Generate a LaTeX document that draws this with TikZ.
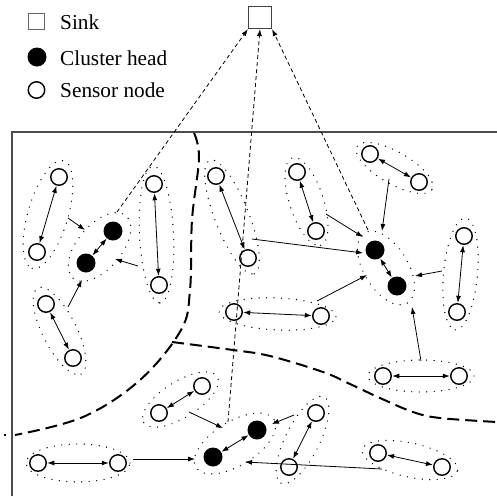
\documentclass[tikz,border=0pt]{standalone}
\usepackage{fontspec}
\setmainfont{Liberation Serif}
\usetikzlibrary{arrows.meta,calc}

% dotted ring round two member nodes: #1,#2 nodes, #3 extra length, #4 half width
\newcommand\clusterring[4]{%
  \path let \p1=(#1), \p2=(#2) in \pgfextra{%
    \pgfmathsetmacro\ringang{atan2(\y2-\y1,\x2-\x1)}%
    \pgfmathsetmacro\ringlen{veclen(\x2-\x1,\y2-\y1)/2+#3}%
    \xdef\ringangle{\ringang}\xdef\ringhalf{\ringlen}};
  \draw[ring, rotate around={\ringangle:($(#1)!0.5!(#2)$)}]
    ($(#1)!0.5!(#2)$) ellipse [x radius=\ringhalf pt, y radius=#4 pt];
}

\tikzset{
  >={Latex[length=7pt,width=5pt]},
  sn/.style={circle, draw, line width=1.4pt, fill=white, minimum size=16.5pt, inner sep=0pt},
  ch/.style={circle, fill=black, minimum size=19pt, inner sep=0pt},
  link/.style={<->, line width=0.8pt, shorten <=0.3pt, shorten >=0.3pt},
  report/.style={->, line width=0.8pt},
  uplink/.style={->, line width=0.8pt, dash pattern=on 4pt off 3pt},
  ring/.style={line width=1.4pt, dash pattern=on 0pt off 7.5pt, line cap=round},
  boundary/.style={line width=2pt, dash pattern=on 12pt off 6pt},
  frameline/.style={line width=1.2pt, draw=black!70},
  legtext/.style={anchor=base west, font=\fontsize{21.3}{26}\selectfont, inner sep=0pt},
}

\begin{document}
\begin{tikzpicture}[x=1pt, y=-1pt]
\useasboundingbox (0,0) rectangle (497,496);

% legend
\node[draw=black!60, line width=1pt, minimum size=16pt, inner sep=0pt] (legsink) at (36.5,21.5) {};
\node[legtext] (legsinktext) at (60,29) {Sink};
\node[ch] (legch) at (37,57) {};
\node[legtext] (legchtext) at (60,65) {Cluster head};
\node[sn] (legsn) at (36.5,90) {};
\node[legtext] (legsntext) at (60,97) {Sensor node};

% sink
\node[draw=black!75, line width=1.2pt, minimum width=23pt, minimum height=22pt, inner sep=0pt] (sink) at (260,17.5) {};

% field frame
\draw[frameline] (12,496) -- (12,132) -- (497,132);

% region boundaries
\draw[boundary] plot[smooth, tension=0.6] coordinates
  {(194,133) (199,158) (192,220) (190,290) (181,330) (140,380) (83,417) (15,435)};
\draw[line width=1.6pt] (4.2,435) -- (6,435);
\draw[boundary] plot[smooth, tension=0.6] coordinates
  {(172,342) (233,350) (270,356) (323,372) (350,384) (380,398) (413,412) (440,418) (497,422)};

% sensor nodes
\node[sn] (A) at (59,177) {};
\node[sn] (B) at (37,252) {};
\node[sn] (C) at (154,184) {};
\node[sn] (D) at (159,285) {};
\node[sn] (E) at (46,304) {};
\node[sn] (E2) at (73,358) {};
\node[sn] (F) at (216,176) {};
\node[sn] (G) at (248,258) {};
\node[sn] (H) at (297,172) {};
\node[sn] (I) at (316,231) {};
\node[sn] (J) at (234,312) {};
\node[sn] (K) at (321,316) {};
\node[sn] (L) at (370,154) {};
\node[sn] (M) at (419,182) {};
\node[sn] (N) at (464,236) {};
\node[sn] (O) at (457,312) {};
\node[sn] (U) at (383,376) {};
\node[sn] (V) at (459,376) {};
\node[sn] (P) at (202,386) {};
\node[sn] (Q) at (159,413) {};
\node[sn] (R) at (38,463) {};
\node[sn] (S) at (118,463) {};
\node[sn] (W) at (316,413) {};
\node[sn] (X) at (289,467) {};
\node[sn] (Y) at (378,453) {};
\node[sn] (Z) at (442,467) {};

% cluster heads
\node[ch] (h1) at (113,231) {};
\node[ch] (h2) at (86,263) {};
\node[ch] (h3) at (375,250) {};
\node[ch] (h4) at (397,286) {};
\node[ch] (h5) at (213,457) {};
\node[ch] (h6) at (257,430) {};

% cluster rings
\clusterring{A}{B}{17}{20}
\clusterring{h1}{h2}{20}{22}
\clusterring{C}{D}{18}{17}
\clusterring{E}{E2}{18}{17}
\clusterring{F}{G}{17}{17}
\clusterring{H}{I}{15}{17}
\clusterring{J}{K}{15}{16}
\clusterring{L}{M}{15}{16}
\clusterring{h3}{h4}{20}{22}
\clusterring{N}{O}{18}{17}
\clusterring{U}{V}{15}{16}
\clusterring{P}{Q}{18}{18}
\clusterring{R}{S}{12}{19}
\clusterring{h5}{h6}{20}{22}
\clusterring{W}{X}{18}{17}
\clusterring{Y}{Z}{16}{17}

% links inside clusters
\draw[link] (A) -- (B);
\draw[link] (h1) -- (h2);
\draw[link] (C) -- (D);
\draw[link] (E) -- (E2);
\draw[link] (F) -- (G);
\draw[link] (H) -- (I);
\draw[link] (J) -- (K);
\draw[link] (L) -- (M);
\draw[link] (h3) -- (h4);
\draw[link] (N) -- (O);
\draw[link] (U) -- (V);
\draw[link] (P) -- (Q);
\draw[link] (R) -- (S);
\draw[link] (h5) -- (h6);
\draw[link] (W) -- (X);
\draw[link] (Y) -- (Z);

% reports from member clusters to their heads
\coordinate (r1a) at (68,218);  \coordinate (r1b) at (85,230);
\coordinate (r2a) at (138,266); \coordinate (r2b) at (115,259);
\coordinate (r3a) at (68,307);  \coordinate (r3b) at (82,280);
\coordinate (r4a) at (252,239); \coordinate (r4b) at (363,253);
\coordinate (r5a) at (326,214); \coordinate (r5b) at (363,237);
\coordinate (r6a) at (389,179); \coordinate (r6b) at (382,231);
\coordinate (r7a) at (317,301); \coordinate (r7b) at (367,275);
\coordinate (r8a) at (442,271); \coordinate (r8b) at (415,276);
\coordinate (r9a) at (421,361); \coordinate (r9b) at (412,307);
\coordinate (r10a) at (189,412); \coordinate (r10b) at (223,428);
\coordinate (r11a) at (133,459); \coordinate (r11b) at (195,459);
\coordinate (r12a) at (294,415); \coordinate (r12b) at (272,424);
\coordinate (r13a) at (382,469); \coordinate (r13b) at (245,462);
\foreach \i in {1,...,13} \draw[report] (r\i a) -- (r\i b);

% heads to sink
\coordinate (u1) at (117,212);
\coordinate (u2) at (228,422);
\coordinate (u3) at (368,230);
\draw[uplink] (u1) -- (sink.south west);
\draw[uplink] (u2) -- (sink.south);
\draw[uplink] (u3) -- (sink.south east);
\end{tikzpicture}
\end{document}
